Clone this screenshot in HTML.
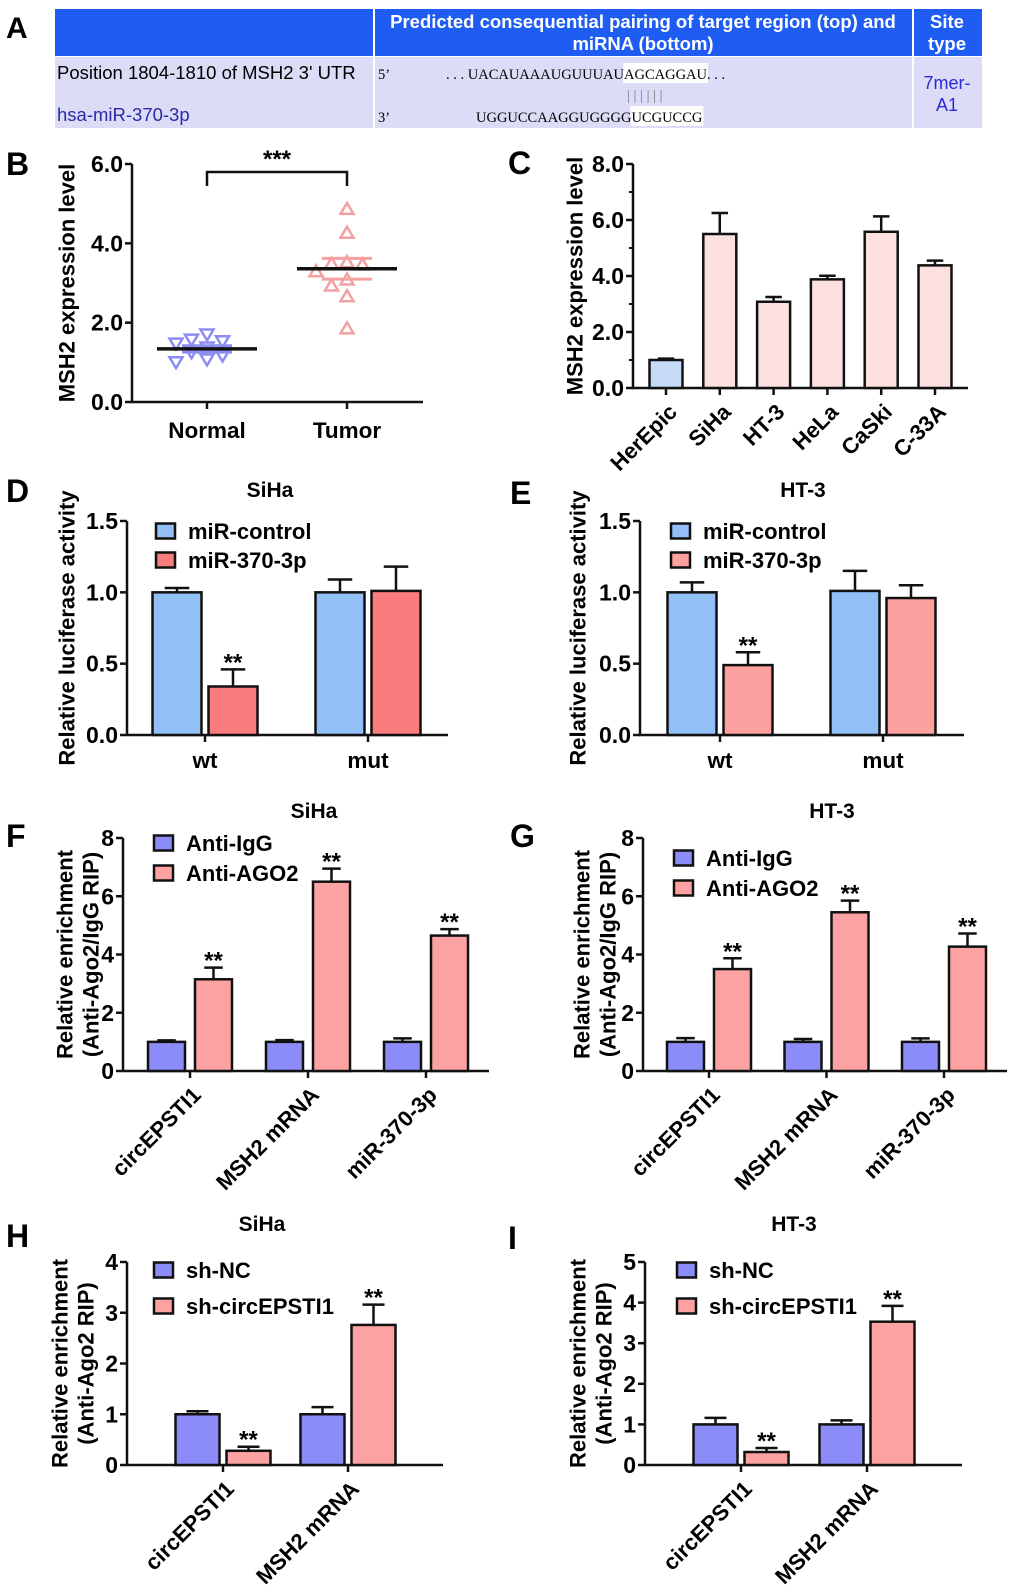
<!DOCTYPE html>
<html><head><meta charset="utf-8"><style>
body{margin:0;background:#fff;}
svg{display:block;font-family:"Liberation Sans",Arial,sans-serif;}
.seq{font-family:"Liberation Serif",serif;font-size:14.5px;}
</style></head><body>
<svg id="fig" width="1020" height="1593" viewBox="0 0 1020 1593" xmlns="http://www.w3.org/2000/svg">
<rect width="1020" height="1593" fill="#fff"/>
<g>
<text x="6" y="38" font-size="30" font-weight="bold">A</text>
<rect x="55" y="9" width="927" height="47" fill="#1f5cf2"/>
<rect x="55" y="57" width="927" height="71" fill="#dcdcf6"/>
<line x1="374" y1="9" x2="374" y2="128" stroke="#fff" stroke-width="2"/>
<line x1="913" y1="9" x2="913" y2="128" stroke="#fff" stroke-width="2"/>
<text x="643" y="28" fill="#fff" font-size="18.5" font-weight="bold" text-anchor="middle">Predicted consequential pairing of target region (top) and</text>
<text x="643" y="50" fill="#fff" font-size="18.5" font-weight="bold" text-anchor="middle">miRNA (bottom)</text>
<text x="947" y="28" fill="#fff" font-size="18.5" font-weight="bold" text-anchor="middle">Site</text>
<text x="947" y="50" fill="#fff" font-size="18.5" font-weight="bold" text-anchor="middle">type</text>
<text x="57" y="79" font-size="18.5">Position 1804-1810 of MSH2 3' UTR</text>
<text x="57" y="121" font-size="18.5" fill="#2a2aa8">hsa-miR-370-3p</text>
<text x="378" y="79" class="seq" font-size="17">5’</text>
<text x="378" y="122" class="seq" font-size="17">3’</text>
<rect id="hl1" x="0" y="63" width="0" height="20" fill="#fff"/>
<rect id="hl2" x="0" y="106" width="0" height="20" fill="#fff"/>
<text id="seqTop" x="446" y="79" class="seq">. . . UACAUAAAUGUUUAUAGCAGGAU. . .</text>
<text id="pipes" x="630" y="100" class="seq" fill="#777">| | | | | |</text>
<text id="seqBot" x="476" y="122" class="seq">UGGUCCAAGGUGGGGUCGUCCG</text>
<text x="947" y="89" fill="#2a2ad8" font-size="18" text-anchor="middle">7mer-</text>
<text x="947" y="111" fill="#2a2ad8" font-size="18" text-anchor="middle">A1</text>
</g>
</svg>
<script>
// ---- Panel B data ----
const bGroups = ["Normal", "Tumor"];
const bNormal = [1.69, 1.46, 1.56, 1.52, 1.24, 1.36, 0.99, 1.06, 1.16];
const bTumor = [4.88, 4.28, 3.50, 3.54, 3.48, 3.31, 3.10, 2.95, 2.68, 1.87];
const bTicks = [0, 2, 4, 6];
const bTickLabels = ["0.0", "2.0", "4.0", "6.0"];
// ---- Panel C data ----
const cCategories = ["HerEpic", "SiHa", "HT-3", "HeLa", "CaSki", "C-33A"];
const cValues = [1.0, 5.5, 3.08, 3.88, 5.58, 4.38];
const cErrors = [0.05, 0.75, 0.17, 0.13, 0.55, 0.17];
const cTicks = [0, 2, 4, 6, 8];
const cTickLabels = ["0.0", "2.0", "4.0", "6.0", "8.0"];
// ---- Panel D data ----
const dCategories = ["wt", "mut"];
const dControl = [1.0, 1.0];
const dControlErr = [0.03, 0.09];
const dMimic = [0.34, 1.01];
const dMimicErr = [0.12, 0.17];
const dSig = [true, false];
// ---- Panel E data ----
const eCategories = ["wt", "mut"];
const eControl = [1.0, 1.01];
const eControlErr = [0.07, 0.14];
const eMimic = [0.49, 0.96];
const eMimicErr = [0.09, 0.09];
const eSig = [true, false];
const luxTicks = [0, 0.5, 1.0, 1.5];
const luxTickLabels = ["0.0", "0.5", "1.0", "1.5"];
// ---- Panel F data ----
const fCategories = ["circEPSTI1", "MSH2 mRNA", "miR-370-3p"];
const fIgG = [1.0, 1.0, 1.0];
const fIgGErr = [0.05, 0.06, 0.12];
const fAGO2 = [3.15, 6.5, 4.65];
const fAGO2Err = [0.4, 0.45, 0.22];
const fSig = [true, true, true];
// ---- Panel G data ----
const gCategories = ["circEPSTI1", "MSH2 mRNA", "miR-370-3p"];
const gIgG = [1.0, 1.0, 1.0];
const gIgGErr = [0.13, 0.1, 0.12];
const gAGO2 = [3.5, 5.45, 4.27];
const gAGO2Err = [0.37, 0.4, 0.45];
const gSig = [true, true, true];
const ripTicks = [0, 2, 4, 6, 8];
const ripTickLabels = ["0", "2", "4", "6", "8"];
// ---- Panel H data ----
const hCategories = ["circEPSTI1", "MSH2 mRNA"];
const hNC = [1.0, 1.0];
const hNCErr = [0.06, 0.14];
const hSh = [0.28, 2.76];
const hShErr = [0.08, 0.4];
const hSig = [true, true];
const hTicks = [0, 1, 2, 3, 4];
const hTickLabels = ["0", "1", "2", "3", "4"];
// ---- Panel I data ----
const iCategories = ["circEPSTI1", "MSH2 mRNA"];
const iNC = [1.0, 1.0];
const iNCErr = [0.16, 0.1];
const iSh = [0.32, 3.53];
const iShErr = [0.1, 0.39];
const iSig = [true, true];
const iTicks = [0, 1, 2, 3, 4, 5];
const iTickLabels = ["0", "1", "2", "3", "4", "5"];

const NS = "http://www.w3.org/2000/svg";
const svg = document.getElementById("fig");
function mk(tag, attrs, parent) {
  const e = document.createElementNS(NS, tag);
  for (const k in attrs) e.setAttribute(k, attrs[k]);
  parent.appendChild(e);
  return e;
}
function txt(x, y, s, attrs, parent) {
  const t = mk("text", Object.assign({x: x, y: y, "font-weight": "bold"}, attrs), parent);
  t.textContent = s;
  return t;
}

// sequence highlights
(function () {
  function hl(id, rid, start, len) {
    const t = document.getElementById(id);
    const r = document.getElementById(rid);
    try {
      const x0 = t.getStartPositionOfChar(start).x;
      const x1 = t.getEndPositionOfChar(start + len - 1).x;
      r.setAttribute("x", x0 - 1);
      r.setAttribute("width", x1 - x0 + 2);
      return [x0, x1];
    } catch (e) { return null; }
  }
  const top = document.getElementById("seqTop").textContent;
  const a = hl("seqTop", "hl1", top.indexOf("AGCAGGAU"), 8);
  const bot = document.getElementById("seqBot").textContent;
  hl("seqBot", "hl2", bot.indexOf("UCGUCCG"), 7);
  if (a) document.getElementById("pipes").setAttribute("x", a[0] + 3);
})();

function panelLetter(ch, x, y) {
  const t = txt(x, y, ch, {"font-size": 32}, svg);
  
  
}

function yAxis(g, cfg) {
  const ys = v => cfg.y0 - (v / cfg.max) * (cfg.y0 - cfg.yTop);
  const ax = mk("line", {x1: cfg.ax, y1: cfg.yTop, x2: cfg.ax, y2: cfg.y0, stroke: "#111", "stroke-width": 2.5}, g);
  
  
  const xl = mk("line", {x1: cfg.ax - 1, y1: cfg.y0, x2: cfg.xEnd, y2: cfg.y0, stroke: "#111", "stroke-width": 2.5}, g);
  
  
  cfg.ticks.forEach((v, i) => {
    mk("line", {x1: cfg.ax - 7, y1: ys(v), x2: cfg.ax, y2: ys(v), stroke: "#111", "stroke-width": 2.5}, g);
    const t = txt(cfg.ax - 9, ys(v) + 8, cfg.tickLabels[i], {"font-size": 23, "text-anchor": "end"}, g);
    
    
  });
  if (cfg.minor) {
    for (let i = 0; i < cfg.ticks.length - 1; i++) {
      const v = (cfg.ticks[i] + cfg.ticks[i + 1]) / 2;
      mk("line", {x1: cfg.ax - 4, y1: ys(v), x2: cfg.ax, y2: ys(v), stroke: "#111", "stroke-width": 2}, g);
    }
  }
  const cy = (cfg.y0 + cfg.yTop) / 2;
  cfg.yTitle.forEach((line, i) => {
    const x = cfg.yTitleX[i];
    const t = txt(x, cy, line, {"font-size": 22, "text-anchor": "middle", transform: "rotate(-90 " + x + " " + cy + ")", "dominant-baseline": "central"}, g);
    
    
  });
  return ys;
}

function barChart(cfg) {
  const g = mk("g", {}, svg);
  
  
  const ys = yAxis(g, cfg);
  const xs = i => cfg.first + i * cfg.step;
  if (cfg.title) {
    const t = txt(cfg.titleX, cfg.titleY, cfg.title, {"font-size": 21, "text-anchor": "middle"}, g);
    
    
  }
  cfg.cats.forEach((c, i) => {
    const tx = xs(i);
    mk("line", {x1: tx, y1: cfg.y0, x2: tx, y2: cfg.y0 + 7, stroke: "#111", "stroke-width": 2.5}, g);
    let t;
    if (cfg.rot) {
      const lx = tx + 7, ly = cfg.y0 + 20;
      t = txt(lx, ly, c, {"font-size": 22, "text-anchor": "end", transform: "rotate(-45 " + lx + " " + ly + ")", "dominant-baseline": "central"}, g);
    } else {
      t = txt(tx, cfg.y0 + 33, c, {"font-size": 22.5, "text-anchor": "middle"}, g);
    }
    
    
    cfg.series.forEach((s, j) => {
      const v = s.vals[i], e = s.errs[i];
      const cx = tx + cfg.offsets[j];
      const top = ys(v), et = ys(v + e);
      const cw = cfg.barW * 0.5;
      const eb = mk("path", {d: "M" + cx + "," + top + "V" + et + "M" + (cx - cw / 2) + "," + et + "H" + (cx + cw / 2), stroke: "#111", "stroke-width": 2.5, fill: "none"}, g);
      
      
      const color = s.colorFn ? s.colorFn(i) : s.color;
      const r = mk("rect", {x: cx - cfg.barW / 2, y: top, width: cfg.barW, height: cfg.y0 - top, fill: color, stroke: "#111", "stroke-width": 2.5}, g);
      
      
      if (s.sig && s.sig[i]) {
        const st = txt(cx, et + 1, "**", {"font-size": 24, "text-anchor": "middle"}, g);
        
        
      }
    });
  });
  if (cfg.legend) {
    cfg.legend.forEach((L, j) => {
      const y = cfg.legendY[j];
      const b = mk("rect", {x: cfg.legendX, y: y - 7.5, width: 19, height: 15, fill: cfg.series[j].color, stroke: "#111", "stroke-width": 2.5}, g);
      
      
      const t = txt(cfg.legendX + 32, y + 8, L, {"font-size": 22}, g);
      
      
    });
  }
}

// ---- Panel B (scatter) ----
(function () {
  const g = mk("g", {}, svg);
  
  
  const cfg = {ax: 132, y0: 402, yTop: 164, max: 6, xEnd: 423, ticks: bTicks, tickLabels: bTickLabels, yTitle: ["MSH2 expression level"], yTitleX: [67]};
  const ys = yAxis(g, cfg);
  const gx = i => 207 + i * 140;
  bGroups.forEach((c, i) => {
    mk("line", {x1: gx(i), y1: 402, x2: gx(i), y2: 409, stroke: "#111", "stroke-width": 2.5}, g);
    const t = txt(gx(i), 438, c, {"font-size": 22.5, "text-anchor": "middle"}, g);
    
    
  });
  const sets = [{vals: bNormal, color: "#8c8cf2", down: true}, {vals: bTumor, color: "#f5a0a0", down: false}];
  sets.forEach((s, i) => {
    const cx = gx(i);
    const n = s.vals.length;
    const mean = s.vals.reduce((a, b) => a + b, 0) / n;
    const sd = Math.sqrt(s.vals.reduce((a, b) => a + (b - mean) * (b - mean), 0) / (n - 1));
    const sem = sd / Math.sqrt(n);
    const placed = [];
    [...s.vals].sort((a, b) => b - a).forEach(v => {
      const y = ys(v);
      let off = 0;
      for (const k of [0, -1, 1, -2, 2]) {
        if (!placed.some(p => p.k === k && Math.abs(p.y - y) < 10)) { off = k; break; }
      }
      placed.push({k: off, y: y});
      const x = cx + off * 15.5;
      const h = 11, w = 13;
      const d = s.down
        ? "M" + (x - w / 2) + "," + (y - h / 2) + "H" + (x + w / 2) + "L" + x + "," + (y + h / 2) + "Z"
        : "M" + (x - w / 2) + "," + (y + h / 2) + "H" + (x + w / 2) + "L" + x + "," + (y - h / 2) + "Z";
      const p = mk("path", {d: d, fill: "none", stroke: s.color, "stroke-width": 2.5}, g);
      
      
    });
    [mean + sem, mean - sem].forEach(v => {
      const l = mk("line", {x1: cx - 25, y1: ys(v), x2: cx + 25, y2: ys(v), stroke: s.color, "stroke-width": 3}, g);
      
      
    });
    const m = mk("line", {x1: cx - 50, y1: ys(mean), x2: cx + 50, y2: ys(mean), stroke: "#111", "stroke-width": 3.5}, g);
    
    
  });
  const br = mk("path", {d: "M207,186V172H347V186", fill: "none", stroke: "#111", "stroke-width": 2.5}, g);
  
  
  const st = txt(277, 167, "***", {"font-size": 24, "text-anchor": "middle"}, g);
  
  
})();

const BLUE_L = "#92bff5", RED_D = "#fb7c7c", RED_E = "#fca0a0", PURP = "#8c8cf8", PINK = "#fca2a2";

barChart({name: "panel-c-bar-chart", ax: 633, y0: 388, yTop: 164, max: 8, xEnd: 968, ticks: cTicks, tickLabels: cTickLabels, minor: true,
  yTitle: ["MSH2 expression level"], yTitleX: [575], cats: cCategories, first: 666, step: 53.8, barW: 33, offsets: [0], rot: true,
  series: [{vals: cValues, errs: cErrors, colorFn: i => i === 0 ? "#c6dbf5" : "#fde0e0"}]});

barChart({name: "panel-d-bar-chart", ax: 127, y0: 735, yTop: 521, max: 1.5, xEnd: 448, ticks: luxTicks, tickLabels: luxTickLabels,
  yTitle: ["Relative luciferase activity"], yTitleX: [67], cats: dCategories, first: 205, step: 163, barW: 49, offsets: [-28, 28],
  title: "SiHa", titleX: 270, titleY: 497,
  series: [{vals: dControl, errs: dControlErr, color: BLUE_L}, {vals: dMimic, errs: dMimicErr, color: RED_D, sig: dSig}],
  legend: ["miR-control", "miR-370-3p"], legendX: 156, legendY: [531, 560]});

barChart({name: "panel-e-bar-chart", ax: 640, y0: 735, yTop: 521, max: 1.5, xEnd: 964, ticks: luxTicks, tickLabels: luxTickLabels,
  yTitle: ["Relative luciferase activity"], yTitleX: [578], cats: eCategories, first: 720, step: 163, barW: 49, offsets: [-28, 28],
  title: "HT-3", titleX: 803, titleY: 497,
  series: [{vals: eControl, errs: eControlErr, color: BLUE_L}, {vals: eMimic, errs: eMimicErr, color: RED_E, sig: eSig}],
  legend: ["miR-control", "miR-370-3p"], legendX: 671, legendY: [531, 560]});

barChart({name: "panel-f-bar-chart", ax: 123, y0: 1071, yTop: 838, max: 8, xEnd: 489, ticks: ripTicks, tickLabels: ripTickLabels,
  yTitle: ["Relative enrichment", "(Anti-Ago2/IgG RIP)"], yTitleX: [65, 91], cats: fCategories, first: 190, step: 118, barW: 37, offsets: [-23.5, 23.5], rot: true,
  title: "SiHa", titleX: 314, titleY: 818,
  series: [{vals: fIgG, errs: fIgGErr, color: PURP}, {vals: fAGO2, errs: fAGO2Err, color: PINK, sig: fSig}],
  legend: ["Anti-IgG", "Anti-AGO2"], legendX: 154, legendY: [843, 873]});

barChart({name: "panel-g-bar-chart", ax: 643, y0: 1071, yTop: 838, max: 8, xEnd: 1007, ticks: ripTicks, tickLabels: ripTickLabels,
  yTitle: ["Relative enrichment", "(Anti-Ago2/IgG RIP)"], yTitleX: [582, 608], cats: gCategories, first: 709, step: 117.5, barW: 37, offsets: [-23.5, 23.5], rot: true,
  title: "HT-3", titleX: 832, titleY: 818,
  series: [{vals: gIgG, errs: gIgGErr, color: PURP}, {vals: gAGO2, errs: gAGO2Err, color: PINK, sig: gSig}],
  legend: ["Anti-IgG", "Anti-AGO2"], legendX: 674, legendY: [858, 888]});

barChart({name: "panel-h-bar-chart", ax: 127, y0: 1465, yTop: 1262, max: 4, xEnd: 443, ticks: hTicks, tickLabels: hTickLabels,
  yTitle: ["Relative enrichment", "(Anti-Ago2 RIP)"], yTitleX: [60, 86], cats: hCategories, first: 223, step: 125, barW: 44, offsets: [-25.5, 25.5], rot: true,
  title: "SiHa", titleX: 262, titleY: 1231,
  series: [{vals: hNC, errs: hNCErr, color: PURP}, {vals: hSh, errs: hShErr, color: PINK, sig: hSig}],
  legend: ["sh-NC", "sh-circEPSTI1"], legendX: 154, legendY: [1270, 1306]});

barChart({name: "panel-i-bar-chart", ax: 645, y0: 1465, yTop: 1262, max: 5, xEnd: 962, ticks: iTicks, tickLabels: iTickLabels,
  yTitle: ["Relative enrichment", "(Anti-Ago2 RIP)"], yTitleX: [578, 604], cats: iCategories, first: 741, step: 126, barW: 44, offsets: [-25.5, 25.5], rot: true,
  title: "HT-3", titleX: 794, titleY: 1231,
  series: [{vals: iNC, errs: iNCErr, color: PURP}, {vals: iSh, errs: iShErr, color: PINK, sig: iSig}],
  legend: ["sh-NC", "sh-circEPSTI1"], legendX: 677, legendY: [1270, 1306]});

panelLetter("B", 6, 175);
panelLetter("C", 508, 174);
panelLetter("D", 6, 502);
panelLetter("E", 510, 504);
panelLetter("F", 6, 847);
panelLetter("G", 510, 847);
panelLetter("H", 6, 1247);
panelLetter("I", 508, 1249);
</script>
</body></html>
